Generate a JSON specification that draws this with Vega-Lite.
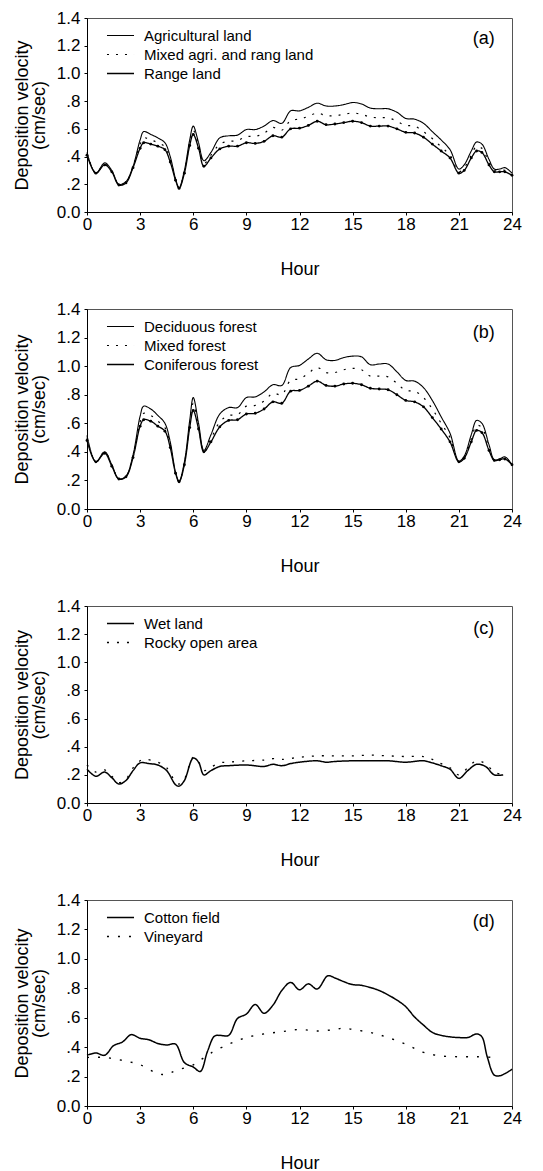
{
"$schema": "https://vega.github.io/schema/vega-lite/v6.json",
"padding": {"left": 12, "top": 8, "right": 10, "bottom": 0},
"spacing": 20,
"background": "white",
"config": {
  "font": "Liberation Sans",
  "view": {"stroke": "#555", "strokeWidth": 1},
  "axis": {"labelFont": "Liberation Sans", "labelFontSize": 17, "titleFont": "Liberation Sans", "titleFontSize": 18, "titleFontWeight": "normal", "domainColor": "black", "tickColor": "black", "labelColor": "black", "titleColor": "black", "grid": false, "tickSize": 3, "labelFlush": false, "labelOverlap": false, "tickCount": 20},
  "axisX": {"labelPadding": 1, "titlePadding": 28},
  "axisY": {"labelPadding": 4, "titlePadding": 8, "titleLineHeight": 17, "labelOverlap": false},
  "legend": {"orient": "none", "legendX": 24, "legendY": 8, "labelFont": "Liberation Sans", "labelFontSize": 15, "labelColor": "black", "labelLimit": 400, "symbolType": "M-1.59,0H1.59", "symbolSize": 289, "symbolStrokeColor": "black", "rowPadding": 1, "labelOffset": 14}
},
"datasets": {
"a": [
{"s":"Agricultural land","h":0,"v":0.43},{"s":"Agricultural land","h":0.5,"v":0.28},{"s":"Agricultural land","h":1,"v":0.355},{"s":"Agricultural land","h":1.4,"v":0.30},{"s":"Agricultural land","h":1.8,"v":0.20},{"s":"Agricultural land","h":2.2,"v":0.22},{"s":"Agricultural land","h":2.6,"v":0.33},{"s":"Agricultural land","h":3,"v":0.52},{"s":"Agricultural land","h":3.2,"v":0.58},{"s":"Agricultural land","h":3.6,"v":0.56},{"s":"Agricultural land","h":4,"v":0.535},{"s":"Agricultural land","h":4.4,"v":0.50},{"s":"Agricultural land","h":4.7,"v":0.40},{"s":"Agricultural land","h":5,"v":0.24},{"s":"Agricultural land","h":5.2,"v":0.175},{"s":"Agricultural land","h":5.5,"v":0.30},{"s":"Agricultural land","h":5.8,"v":0.52},{"s":"Agricultural land","h":6,"v":0.62},{"s":"Agricultural land","h":6.3,"v":0.50},{"s":"Agricultural land","h":6.6,"v":0.37},{"s":"Agricultural land","h":7,"v":0.43},{"s":"Agricultural land","h":7.5,"v":0.535},{"s":"Agricultural land","h":8,"v":0.55},{"s":"Agricultural land","h":8.5,"v":0.555},{"s":"Agricultural land","h":9,"v":0.595},{"s":"Agricultural land","h":9.5,"v":0.595},{"s":"Agricultural land","h":10,"v":0.62},{"s":"Agricultural land","h":10.5,"v":0.66},{"s":"Agricultural land","h":11,"v":0.64},{"s":"Agricultural land","h":11.5,"v":0.73},{"s":"Agricultural land","h":12,"v":0.73},{"s":"Agricultural land","h":12.5,"v":0.755},{"s":"Agricultural land","h":13,"v":0.785},{"s":"Agricultural land","h":13.5,"v":0.765},{"s":"Agricultural land","h":14,"v":0.765},{"s":"Agricultural land","h":14.5,"v":0.775},{"s":"Agricultural land","h":15,"v":0.79},{"s":"Agricultural land","h":15.5,"v":0.78},{"s":"Agricultural land","h":16,"v":0.75},{"s":"Agricultural land","h":16.5,"v":0.745},{"s":"Agricultural land","h":17,"v":0.745},{"s":"Agricultural land","h":17.5,"v":0.72},{"s":"Agricultural land","h":18,"v":0.675},{"s":"Agricultural land","h":18.5,"v":0.67},{"s":"Agricultural land","h":19,"v":0.64},{"s":"Agricultural land","h":19.5,"v":0.58},{"s":"Agricultural land","h":20,"v":0.52},{"s":"Agricultural land","h":20.5,"v":0.45},{"s":"Agricultural land","h":21,"v":0.31},{"s":"Agricultural land","h":21.3,"v":0.34},{"s":"Agricultural land","h":21.7,"v":0.44},{"s":"Agricultural land","h":22,"v":0.505},{"s":"Agricultural land","h":22.3,"v":0.49},{"s":"Agricultural land","h":22.7,"v":0.38},{"s":"Agricultural land","h":23,"v":0.31},{"s":"Agricultural land","h":23.3,"v":0.31},{"s":"Agricultural land","h":23.6,"v":0.32},{"s":"Agricultural land","h":24,"v":0.28},
{"s":"Mixed agri. and rang land","h":0,"v":0.42},{"s":"Mixed agri. and rang land","h":0.5,"v":0.28},{"s":"Mixed agri. and rang land","h":1,"v":0.345},{"s":"Mixed agri. and rang land","h":1.4,"v":0.295},{"s":"Mixed agri. and rang land","h":1.8,"v":0.20},{"s":"Mixed agri. and rang land","h":2.2,"v":0.215},{"s":"Mixed agri. and rang land","h":2.6,"v":0.33},{"s":"Mixed agri. and rang land","h":3,"v":0.49},{"s":"Mixed agri. and rang land","h":3.2,"v":0.535},{"s":"Mixed agri. and rang land","h":3.6,"v":0.52},{"s":"Mixed agri. and rang land","h":4,"v":0.50},{"s":"Mixed agri. and rang land","h":4.4,"v":0.47},{"s":"Mixed agri. and rang land","h":4.7,"v":0.38},{"s":"Mixed agri. and rang land","h":5,"v":0.235},{"s":"Mixed agri. and rang land","h":5.2,"v":0.175},{"s":"Mixed agri. and rang land","h":5.5,"v":0.29},{"s":"Mixed agri. and rang land","h":5.8,"v":0.50},{"s":"Mixed agri. and rang land","h":6,"v":0.59},{"s":"Mixed agri. and rang land","h":6.3,"v":0.48},{"s":"Mixed agri. and rang land","h":6.6,"v":0.35},{"s":"Mixed agri. and rang land","h":7,"v":0.41},{"s":"Mixed agri. and rang land","h":7.5,"v":0.49},{"s":"Mixed agri. and rang land","h":8,"v":0.51},{"s":"Mixed agri. and rang land","h":8.5,"v":0.515},{"s":"Mixed agri. and rang land","h":9,"v":0.545},{"s":"Mixed agri. and rang land","h":9.5,"v":0.545},{"s":"Mixed agri. and rang land","h":10,"v":0.57},{"s":"Mixed agri. and rang land","h":10.5,"v":0.61},{"s":"Mixed agri. and rang land","h":11,"v":0.59},{"s":"Mixed agri. and rang land","h":11.5,"v":0.66},{"s":"Mixed agri. and rang land","h":12,"v":0.67},{"s":"Mixed agri. and rang land","h":12.5,"v":0.69},{"s":"Mixed agri. and rang land","h":13,"v":0.715},{"s":"Mixed agri. and rang land","h":13.5,"v":0.695},{"s":"Mixed agri. and rang land","h":14,"v":0.695},{"s":"Mixed agri. and rang land","h":14.5,"v":0.705},{"s":"Mixed agri. and rang land","h":15,"v":0.715},{"s":"Mixed agri. and rang land","h":15.5,"v":0.705},{"s":"Mixed agri. and rang land","h":16,"v":0.685},{"s":"Mixed agri. and rang land","h":16.5,"v":0.68},{"s":"Mixed agri. and rang land","h":17,"v":0.68},{"s":"Mixed agri. and rang land","h":17.5,"v":0.655},{"s":"Mixed agri. and rang land","h":18,"v":0.625},{"s":"Mixed agri. and rang land","h":18.5,"v":0.62},{"s":"Mixed agri. and rang land","h":19,"v":0.58},{"s":"Mixed agri. and rang land","h":19.5,"v":0.53},{"s":"Mixed agri. and rang land","h":20,"v":0.47},{"s":"Mixed agri. and rang land","h":20.5,"v":0.41},{"s":"Mixed agri. and rang land","h":21,"v":0.29},{"s":"Mixed agri. and rang land","h":21.3,"v":0.32},{"s":"Mixed agri. and rang land","h":21.7,"v":0.41},{"s":"Mixed agri. and rang land","h":22,"v":0.475},{"s":"Mixed agri. and rang land","h":22.3,"v":0.46},{"s":"Mixed agri. and rang land","h":22.7,"v":0.36},{"s":"Mixed agri. and rang land","h":23,"v":0.30},{"s":"Mixed agri. and rang land","h":23.3,"v":0.30},{"s":"Mixed agri. and rang land","h":23.6,"v":0.30},{"s":"Mixed agri. and rang land","h":24,"v":0.27},
{"s":"Range land","h":0,"v":0.41},{"s":"Range land","h":0.5,"v":0.28},{"s":"Range land","h":1,"v":0.34},{"s":"Range land","h":1.4,"v":0.29},{"s":"Range land","h":1.8,"v":0.195},{"s":"Range land","h":2.2,"v":0.21},{"s":"Range land","h":2.6,"v":0.32},{"s":"Range land","h":3,"v":0.46},{"s":"Range land","h":3.2,"v":0.50},{"s":"Range land","h":3.6,"v":0.49},{"s":"Range land","h":4,"v":0.475},{"s":"Range land","h":4.4,"v":0.45},{"s":"Range land","h":4.7,"v":0.36},{"s":"Range land","h":5,"v":0.23},{"s":"Range land","h":5.2,"v":0.17},{"s":"Range land","h":5.5,"v":0.28},{"s":"Range land","h":5.8,"v":0.48},{"s":"Range land","h":6,"v":0.56},{"s":"Range land","h":6.3,"v":0.46},{"s":"Range land","h":6.6,"v":0.33},{"s":"Range land","h":7,"v":0.39},{"s":"Range land","h":7.5,"v":0.455},{"s":"Range land","h":8,"v":0.475},{"s":"Range land","h":8.5,"v":0.475},{"s":"Range land","h":9,"v":0.50},{"s":"Range land","h":9.5,"v":0.495},{"s":"Range land","h":10,"v":0.51},{"s":"Range land","h":10.5,"v":0.55},{"s":"Range land","h":11,"v":0.54},{"s":"Range land","h":11.5,"v":0.60},{"s":"Range land","h":12,"v":0.605},{"s":"Range land","h":12.5,"v":0.625},{"s":"Range land","h":13,"v":0.655},{"s":"Range land","h":13.5,"v":0.63},{"s":"Range land","h":14,"v":0.635},{"s":"Range land","h":14.5,"v":0.645},{"s":"Range land","h":15,"v":0.655},{"s":"Range land","h":15.5,"v":0.645},{"s":"Range land","h":16,"v":0.62},{"s":"Range land","h":16.5,"v":0.62},{"s":"Range land","h":17,"v":0.62},{"s":"Range land","h":17.5,"v":0.60},{"s":"Range land","h":18,"v":0.575},{"s":"Range land","h":18.5,"v":0.57},{"s":"Range land","h":19,"v":0.54},{"s":"Range land","h":19.5,"v":0.49},{"s":"Range land","h":20,"v":0.44},{"s":"Range land","h":20.5,"v":0.39},{"s":"Range land","h":21,"v":0.28},{"s":"Range land","h":21.3,"v":0.30},{"s":"Range land","h":21.7,"v":0.39},{"s":"Range land","h":22,"v":0.44},{"s":"Range land","h":22.3,"v":0.43},{"s":"Range land","h":22.7,"v":0.34},{"s":"Range land","h":23,"v":0.29},{"s":"Range land","h":23.3,"v":0.29},{"s":"Range land","h":23.6,"v":0.29},{"s":"Range land","h":24,"v":0.265}
],
"b": [
{"s":"Deciduous forest","h":0,"v":0.515},{"s":"Deciduous forest","h":0.5,"v":0.33},{"s":"Deciduous forest","h":1,"v":0.40},{"s":"Deciduous forest","h":1.4,"v":0.31},{"s":"Deciduous forest","h":1.8,"v":0.21},{"s":"Deciduous forest","h":2.2,"v":0.23},{"s":"Deciduous forest","h":2.6,"v":0.38},{"s":"Deciduous forest","h":3,"v":0.65},{"s":"Deciduous forest","h":3.2,"v":0.72},{"s":"Deciduous forest","h":3.6,"v":0.70},{"s":"Deciduous forest","h":4,"v":0.655},{"s":"Deciduous forest","h":4.4,"v":0.60},{"s":"Deciduous forest","h":4.7,"v":0.47},{"s":"Deciduous forest","h":5,"v":0.26},{"s":"Deciduous forest","h":5.2,"v":0.195},{"s":"Deciduous forest","h":5.5,"v":0.33},{"s":"Deciduous forest","h":5.8,"v":0.62},{"s":"Deciduous forest","h":6,"v":0.78},{"s":"Deciduous forest","h":6.3,"v":0.60},{"s":"Deciduous forest","h":6.6,"v":0.41},{"s":"Deciduous forest","h":7,"v":0.52},{"s":"Deciduous forest","h":7.5,"v":0.665},{"s":"Deciduous forest","h":8,"v":0.71},{"s":"Deciduous forest","h":8.5,"v":0.71},{"s":"Deciduous forest","h":9,"v":0.78},{"s":"Deciduous forest","h":9.5,"v":0.785},{"s":"Deciduous forest","h":10,"v":0.82},{"s":"Deciduous forest","h":10.5,"v":0.87},{"s":"Deciduous forest","h":11,"v":0.865},{"s":"Deciduous forest","h":11.5,"v":0.99},{"s":"Deciduous forest","h":12,"v":1.005},{"s":"Deciduous forest","h":12.5,"v":1.05},{"s":"Deciduous forest","h":13,"v":1.09},{"s":"Deciduous forest","h":13.5,"v":1.045},{"s":"Deciduous forest","h":14,"v":1.04},{"s":"Deciduous forest","h":14.5,"v":1.06},{"s":"Deciduous forest","h":15,"v":1.07},{"s":"Deciduous forest","h":15.5,"v":1.065},{"s":"Deciduous forest","h":16,"v":1.01},{"s":"Deciduous forest","h":16.5,"v":1.015},{"s":"Deciduous forest","h":17,"v":1.015},{"s":"Deciduous forest","h":17.5,"v":0.96},{"s":"Deciduous forest","h":18,"v":0.90},{"s":"Deciduous forest","h":18.5,"v":0.895},{"s":"Deciduous forest","h":19,"v":0.85},{"s":"Deciduous forest","h":19.5,"v":0.76},{"s":"Deciduous forest","h":20,"v":0.645},{"s":"Deciduous forest","h":20.5,"v":0.53},{"s":"Deciduous forest","h":21,"v":0.335},{"s":"Deciduous forest","h":21.3,"v":0.37},{"s":"Deciduous forest","h":21.7,"v":0.52},{"s":"Deciduous forest","h":22,"v":0.62},{"s":"Deciduous forest","h":22.3,"v":0.60},{"s":"Deciduous forest","h":22.7,"v":0.45},{"s":"Deciduous forest","h":23,"v":0.345},{"s":"Deciduous forest","h":23.3,"v":0.35},{"s":"Deciduous forest","h":23.6,"v":0.365},{"s":"Deciduous forest","h":24,"v":0.31},
{"s":"Mixed forest","h":0,"v":0.50},{"s":"Mixed forest","h":0.5,"v":0.33},{"s":"Mixed forest","h":1,"v":0.40},{"s":"Mixed forest","h":1.4,"v":0.31},{"s":"Mixed forest","h":1.8,"v":0.21},{"s":"Mixed forest","h":2.2,"v":0.23},{"s":"Mixed forest","h":2.6,"v":0.37},{"s":"Mixed forest","h":3,"v":0.61},{"s":"Mixed forest","h":3.2,"v":0.67},{"s":"Mixed forest","h":3.6,"v":0.655},{"s":"Mixed forest","h":4,"v":0.615},{"s":"Mixed forest","h":4.4,"v":0.57},{"s":"Mixed forest","h":4.7,"v":0.45},{"s":"Mixed forest","h":5,"v":0.25},{"s":"Mixed forest","h":5.2,"v":0.19},{"s":"Mixed forest","h":5.5,"v":0.32},{"s":"Mixed forest","h":5.8,"v":0.60},{"s":"Mixed forest","h":6,"v":0.74},{"s":"Mixed forest","h":6.3,"v":0.58},{"s":"Mixed forest","h":6.6,"v":0.40},{"s":"Mixed forest","h":7,"v":0.49},{"s":"Mixed forest","h":7.5,"v":0.61},{"s":"Mixed forest","h":8,"v":0.655},{"s":"Mixed forest","h":8.5,"v":0.66},{"s":"Mixed forest","h":9,"v":0.72},{"s":"Mixed forest","h":9.5,"v":0.725},{"s":"Mixed forest","h":10,"v":0.755},{"s":"Mixed forest","h":10.5,"v":0.81},{"s":"Mixed forest","h":11,"v":0.80},{"s":"Mixed forest","h":11.5,"v":0.90},{"s":"Mixed forest","h":12,"v":0.91},{"s":"Mixed forest","h":12.5,"v":0.95},{"s":"Mixed forest","h":13,"v":0.99},{"s":"Mixed forest","h":13.5,"v":0.955},{"s":"Mixed forest","h":14,"v":0.955},{"s":"Mixed forest","h":14.5,"v":0.975},{"s":"Mixed forest","h":15,"v":0.985},{"s":"Mixed forest","h":15.5,"v":0.975},{"s":"Mixed forest","h":16,"v":0.93},{"s":"Mixed forest","h":16.5,"v":0.93},{"s":"Mixed forest","h":17,"v":0.925},{"s":"Mixed forest","h":17.5,"v":0.88},{"s":"Mixed forest","h":18,"v":0.83},{"s":"Mixed forest","h":18.5,"v":0.825},{"s":"Mixed forest","h":19,"v":0.78},{"s":"Mixed forest","h":19.5,"v":0.70},{"s":"Mixed forest","h":20,"v":0.60},{"s":"Mixed forest","h":20.5,"v":0.50},{"s":"Mixed forest","h":21,"v":0.33},{"s":"Mixed forest","h":21.3,"v":0.36},{"s":"Mixed forest","h":21.7,"v":0.49},{"s":"Mixed forest","h":22,"v":0.585},{"s":"Mixed forest","h":22.3,"v":0.57},{"s":"Mixed forest","h":22.7,"v":0.43},{"s":"Mixed forest","h":23,"v":0.34},{"s":"Mixed forest","h":23.3,"v":0.345},{"s":"Mixed forest","h":23.6,"v":0.36},{"s":"Mixed forest","h":24,"v":0.31},
{"s":"Coniferous forest","h":0,"v":0.48},{"s":"Coniferous forest","h":0.5,"v":0.33},{"s":"Coniferous forest","h":1,"v":0.39},{"s":"Coniferous forest","h":1.4,"v":0.30},{"s":"Coniferous forest","h":1.8,"v":0.21},{"s":"Coniferous forest","h":2.2,"v":0.225},{"s":"Coniferous forest","h":2.6,"v":0.36},{"s":"Coniferous forest","h":3,"v":0.58},{"s":"Coniferous forest","h":3.2,"v":0.625},{"s":"Coniferous forest","h":3.6,"v":0.615},{"s":"Coniferous forest","h":4,"v":0.58},{"s":"Coniferous forest","h":4.4,"v":0.545},{"s":"Coniferous forest","h":4.7,"v":0.43},{"s":"Coniferous forest","h":5,"v":0.25},{"s":"Coniferous forest","h":5.2,"v":0.19},{"s":"Coniferous forest","h":5.5,"v":0.31},{"s":"Coniferous forest","h":5.8,"v":0.57},{"s":"Coniferous forest","h":6,"v":0.69},{"s":"Coniferous forest","h":6.3,"v":0.56},{"s":"Coniferous forest","h":6.6,"v":0.40},{"s":"Coniferous forest","h":7,"v":0.47},{"s":"Coniferous forest","h":7.5,"v":0.575},{"s":"Coniferous forest","h":8,"v":0.62},{"s":"Coniferous forest","h":8.5,"v":0.625},{"s":"Coniferous forest","h":9,"v":0.665},{"s":"Coniferous forest","h":9.5,"v":0.67},{"s":"Coniferous forest","h":10,"v":0.70},{"s":"Coniferous forest","h":10.5,"v":0.75},{"s":"Coniferous forest","h":11,"v":0.74},{"s":"Coniferous forest","h":11.5,"v":0.825},{"s":"Coniferous forest","h":12,"v":0.83},{"s":"Coniferous forest","h":12.5,"v":0.86},{"s":"Coniferous forest","h":13,"v":0.895},{"s":"Coniferous forest","h":13.5,"v":0.865},{"s":"Coniferous forest","h":14,"v":0.86},{"s":"Coniferous forest","h":14.5,"v":0.875},{"s":"Coniferous forest","h":15,"v":0.88},{"s":"Coniferous forest","h":15.5,"v":0.87},{"s":"Coniferous forest","h":16,"v":0.845},{"s":"Coniferous forest","h":16.5,"v":0.84},{"s":"Coniferous forest","h":17,"v":0.835},{"s":"Coniferous forest","h":17.5,"v":0.80},{"s":"Coniferous forest","h":18,"v":0.76},{"s":"Coniferous forest","h":18.5,"v":0.75},{"s":"Coniferous forest","h":19,"v":0.715},{"s":"Coniferous forest","h":19.5,"v":0.64},{"s":"Coniferous forest","h":20,"v":0.56},{"s":"Coniferous forest","h":20.5,"v":0.47},{"s":"Coniferous forest","h":21,"v":0.33},{"s":"Coniferous forest","h":21.3,"v":0.355},{"s":"Coniferous forest","h":21.7,"v":0.47},{"s":"Coniferous forest","h":22,"v":0.55},{"s":"Coniferous forest","h":22.3,"v":0.535},{"s":"Coniferous forest","h":22.7,"v":0.41},{"s":"Coniferous forest","h":23,"v":0.34},{"s":"Coniferous forest","h":23.3,"v":0.345},{"s":"Coniferous forest","h":23.6,"v":0.35},{"s":"Coniferous forest","h":24,"v":0.31}
],
"c": [
{"s":"Wet land","h":0,"v":0.24},{"s":"Wet land","h":0.5,"v":0.19},{"s":"Wet land","h":1,"v":0.22},{"s":"Wet land","h":1.4,"v":0.18},{"s":"Wet land","h":1.8,"v":0.135},{"s":"Wet land","h":2.2,"v":0.16},{"s":"Wet land","h":2.6,"v":0.23},{"s":"Wet land","h":3,"v":0.285},{"s":"Wet land","h":3.5,"v":0.28},{"s":"Wet land","h":4,"v":0.27},{"s":"Wet land","h":4.5,"v":0.23},{"s":"Wet land","h":5,"v":0.13},{"s":"Wet land","h":5.2,"v":0.12},{"s":"Wet land","h":5.5,"v":0.16},{"s":"Wet land","h":6,"v":0.32},{"s":"Wet land","h":6.3,"v":0.29},{"s":"Wet land","h":6.6,"v":0.20},{"s":"Wet land","h":7,"v":0.23},{"s":"Wet land","h":7.5,"v":0.26},{"s":"Wet land","h":8,"v":0.265},{"s":"Wet land","h":9,"v":0.27},{"s":"Wet land","h":10,"v":0.26},{"s":"Wet land","h":10.5,"v":0.275},{"s":"Wet land","h":11,"v":0.265},{"s":"Wet land","h":11.5,"v":0.28},{"s":"Wet land","h":12,"v":0.29},{"s":"Wet land","h":13,"v":0.30},{"s":"Wet land","h":13.5,"v":0.29},{"s":"Wet land","h":14,"v":0.295},{"s":"Wet land","h":15,"v":0.30},{"s":"Wet land","h":16,"v":0.30},{"s":"Wet land","h":17,"v":0.30},{"s":"Wet land","h":18,"v":0.29},{"s":"Wet land","h":19,"v":0.30},{"s":"Wet land","h":19.5,"v":0.285},{"s":"Wet land","h":20,"v":0.265},{"s":"Wet land","h":20.5,"v":0.24},{"s":"Wet land","h":21,"v":0.175},{"s":"Wet land","h":21.5,"v":0.23},{"s":"Wet land","h":22,"v":0.275},{"s":"Wet land","h":22.5,"v":0.26},{"s":"Wet land","h":23,"v":0.20},{"s":"Wet land","h":23.5,"v":0.20},
{"s":"Rocky open area","h":0,"v":0.27},{"s":"Rocky open area","h":0.5,"v":0.22},{"s":"Rocky open area","h":1,"v":0.235},{"s":"Rocky open area","h":1.4,"v":0.19},{"s":"Rocky open area","h":1.8,"v":0.145},{"s":"Rocky open area","h":2.2,"v":0.17},{"s":"Rocky open area","h":2.6,"v":0.25},{"s":"Rocky open area","h":3,"v":0.30},{"s":"Rocky open area","h":3.2,"v":0.31},{"s":"Rocky open area","h":4,"v":0.29},{"s":"Rocky open area","h":4.5,"v":0.25},{"s":"Rocky open area","h":5,"v":0.15},{"s":"Rocky open area","h":5.2,"v":0.135},{"s":"Rocky open area","h":5.5,"v":0.17},{"s":"Rocky open area","h":6,"v":0.325},{"s":"Rocky open area","h":6.3,"v":0.29},{"s":"Rocky open area","h":6.6,"v":0.23},{"s":"Rocky open area","h":7,"v":0.255},{"s":"Rocky open area","h":7.5,"v":0.285},{"s":"Rocky open area","h":8,"v":0.29},{"s":"Rocky open area","h":9,"v":0.30},{"s":"Rocky open area","h":10,"v":0.305},{"s":"Rocky open area","h":10.5,"v":0.315},{"s":"Rocky open area","h":11,"v":0.31},{"s":"Rocky open area","h":12,"v":0.325},{"s":"Rocky open area","h":13,"v":0.335},{"s":"Rocky open area","h":14,"v":0.335},{"s":"Rocky open area","h":15,"v":0.335},{"s":"Rocky open area","h":16,"v":0.34},{"s":"Rocky open area","h":17,"v":0.335},{"s":"Rocky open area","h":18,"v":0.33},{"s":"Rocky open area","h":19,"v":0.33},{"s":"Rocky open area","h":19.5,"v":0.31},{"s":"Rocky open area","h":20,"v":0.28},{"s":"Rocky open area","h":20.5,"v":0.25},{"s":"Rocky open area","h":21,"v":0.20},{"s":"Rocky open area","h":21.5,"v":0.25},{"s":"Rocky open area","h":22,"v":0.30},{"s":"Rocky open area","h":22.5,"v":0.28},{"s":"Rocky open area","h":23,"v":0.22},{"s":"Rocky open area","h":23.5,"v":0.20}
],
"d": [
{"s":"Cotton field","h":0,"v":0.345},{"s":"Cotton field","h":0.5,"v":0.36},{"s":"Cotton field","h":1,"v":0.345},{"s":"Cotton field","h":1.5,"v":0.41},{"s":"Cotton field","h":2,"v":0.435},{"s":"Cotton field","h":2.5,"v":0.485},{"s":"Cotton field","h":3,"v":0.46},{"s":"Cotton field","h":3.5,"v":0.45},{"s":"Cotton field","h":4,"v":0.425},{"s":"Cotton field","h":4.5,"v":0.415},{"s":"Cotton field","h":5,"v":0.42},{"s":"Cotton field","h":5.5,"v":0.295},{"s":"Cotton field","h":6,"v":0.265},{"s":"Cotton field","h":6.4,"v":0.235},{"s":"Cotton field","h":6.8,"v":0.37},{"s":"Cotton field","h":7.2,"v":0.475},{"s":"Cotton field","h":7.5,"v":0.48},{"s":"Cotton field","h":8,"v":0.48},{"s":"Cotton field","h":8.5,"v":0.595},{"s":"Cotton field","h":9,"v":0.625},{"s":"Cotton field","h":9.5,"v":0.69},{"s":"Cotton field","h":10,"v":0.63},{"s":"Cotton field","h":10.5,"v":0.685},{"s":"Cotton field","h":11,"v":0.785},{"s":"Cotton field","h":11.5,"v":0.84},{"s":"Cotton field","h":12,"v":0.79},{"s":"Cotton field","h":12.5,"v":0.83},{"s":"Cotton field","h":13,"v":0.795},{"s":"Cotton field","h":13.6,"v":0.885},{"s":"Cotton field","h":14,"v":0.87},{"s":"Cotton field","h":14.5,"v":0.845},{"s":"Cotton field","h":15,"v":0.825},{"s":"Cotton field","h":15.5,"v":0.82},{"s":"Cotton field","h":16,"v":0.805},{"s":"Cotton field","h":16.5,"v":0.785},{"s":"Cotton field","h":17,"v":0.755},{"s":"Cotton field","h":17.5,"v":0.72},{"s":"Cotton field","h":18,"v":0.675},{"s":"Cotton field","h":18.5,"v":0.605},{"s":"Cotton field","h":19,"v":0.55},{"s":"Cotton field","h":19.5,"v":0.50},{"s":"Cotton field","h":20,"v":0.48},{"s":"Cotton field","h":20.5,"v":0.47},{"s":"Cotton field","h":21,"v":0.465},{"s":"Cotton field","h":21.5,"v":0.465},{"s":"Cotton field","h":22,"v":0.49},{"s":"Cotton field","h":22.3,"v":0.47},{"s":"Cotton field","h":22.6,"v":0.335},{"s":"Cotton field","h":23,"v":0.21},{"s":"Cotton field","h":23.3,"v":0.205},{"s":"Cotton field","h":23.6,"v":0.22},{"s":"Cotton field","h":24,"v":0.25},
{"s":"Vineyard","h":0,"v":0.33},{"s":"Vineyard","h":1,"v":0.33},{"s":"Vineyard","h":2,"v":0.31},{"s":"Vineyard","h":3,"v":0.28},{"s":"Vineyard","h":4,"v":0.22},{"s":"Vineyard","h":4.5,"v":0.215},{"s":"Vineyard","h":5,"v":0.24},{"s":"Vineyard","h":6,"v":0.28},{"s":"Vineyard","h":6.5,"v":0.32},{"s":"Vineyard","h":7,"v":0.36},{"s":"Vineyard","h":8,"v":0.42},{"s":"Vineyard","h":9,"v":0.465},{"s":"Vineyard","h":10,"v":0.49},{"s":"Vineyard","h":11,"v":0.505},{"s":"Vineyard","h":12,"v":0.52},{"s":"Vineyard","h":13,"v":0.51},{"s":"Vineyard","h":14,"v":0.52},{"s":"Vineyard","h":14.5,"v":0.53},{"s":"Vineyard","h":15,"v":0.52},{"s":"Vineyard","h":16,"v":0.50},{"s":"Vineyard","h":17,"v":0.465},{"s":"Vineyard","h":18,"v":0.42},{"s":"Vineyard","h":19,"v":0.365},{"s":"Vineyard","h":20,"v":0.34},{"s":"Vineyard","h":21,"v":0.335},{"s":"Vineyard","h":22,"v":0.335},{"s":"Vineyard","h":23,"v":0.33}
]
},
"resolve": {"scale": {"strokeDash": "independent", "strokeWidth": "independent"}, "legend": {"strokeDash": "independent", "strokeWidth": "independent"}},
"vconcat": [
{
 "width": 425, "height": 194,
 "data": {"name": "a"},
 "layer": [
  {"mark": {"type": "line", "interpolate": "catmull-rom", "color": "black"},
   "encoding": {
    "x": {"field": "h", "type": "quantitative", "scale": {"domain": [0, 24]}, "axis": {"values": [0,3,6,9,12,15,18,21,24], "tickCount": 20, "title": "Hour"}},
    "y": {"field": "v", "type": "quantitative", "scale": {"domain": [0, 1.4]}, "axis": {"values": [0,0.2,0.4,0.6,0.8,1,1.2,1.4], "tickCount": 20, "labelOverlap": false, "title": ["Deposition velocity", "(cm/sec)"], "labelExpr": "datum.value == 0 ? '0.0' : datum.value < 0.99 ? replace(format(datum.value, '.1f'), '0.', '.') : format(datum.value, '.1f')"}},
    "strokeDash": {"field": "s", "type": "nominal", "scale": {"domain": ["Agricultural land", "Mixed agri. and rang land", "Range land"], "range": [[1,0],[2,7],[1,0]]}, "legend": {"title": null}},
    "strokeWidth": {"field": "s", "type": "nominal", "scale": {"domain": ["Agricultural land", "Mixed agri. and rang land", "Range land"], "range": [1.1, 1.3, 2]}, "legend": {"title": null}}
   }},
  {"transform": [{"filter": "datum.s == 'Range land'"}], "mark": {"type": "point", "filled": true, "size": 8, "color": "black", "opacity": 1},
   "encoding": {"x": {"field": "h", "type": "quantitative"}, "y": {"field": "v", "type": "quantitative"}}},
  {"data": {"values": [{}]}, "mark": {"type": "text", "fontSize": 18, "font": "Liberation Sans", "color": "black"},
   "encoding": {"x": {"datum": 22.4, "type": "quantitative"}, "y": {"datum": 1.25, "type": "quantitative"}, "text": {"value": "(a)"}}}
 ]
},
{
 "width": 425, "height": 200,
 "data": {"name": "b"},
 "layer": [
  {"mark": {"type": "line", "interpolate": "catmull-rom", "color": "black"},
   "encoding": {
    "x": {"field": "h", "type": "quantitative", "scale": {"domain": [0, 24]}, "axis": {"values": [0,3,6,9,12,15,18,21,24], "tickCount": 20, "title": "Hour"}},
    "y": {"field": "v", "type": "quantitative", "scale": {"domain": [0, 1.4]}, "axis": {"values": [0,0.2,0.4,0.6,0.8,1,1.2,1.4], "tickCount": 20, "labelOverlap": false, "title": ["Deposition velocity", "(cm/sec)"], "labelExpr": "datum.value == 0 ? '0.0' : datum.value < 0.99 ? replace(format(datum.value, '.1f'), '0.', '.') : format(datum.value, '.1f')"}},
    "strokeDash": {"field": "s", "type": "nominal", "scale": {"domain": ["Deciduous forest", "Mixed forest", "Coniferous forest"], "range": [[1,0],[2,7],[1,0]]}, "legend": {"title": null}},
    "strokeWidth": {"field": "s", "type": "nominal", "scale": {"domain": ["Deciduous forest", "Mixed forest", "Coniferous forest"], "range": [1.1, 1.3, 2]}, "legend": {"title": null}}
   }},
  {"transform": [{"filter": "datum.s == 'Coniferous forest'"}], "mark": {"type": "point", "filled": true, "size": 8, "color": "black", "opacity": 1},
   "encoding": {"x": {"field": "h", "type": "quantitative"}, "y": {"field": "v", "type": "quantitative"}}},
  {"data": {"values": [{}]}, "mark": {"type": "text", "fontSize": 18, "font": "Liberation Sans", "color": "black"},
   "encoding": {"x": {"datum": 22.4, "type": "quantitative"}, "y": {"datum": 1.23, "type": "quantitative"}, "text": {"value": "(b)"}}}
 ]
},
{
 "width": 425, "height": 197,
 "data": {"name": "c"},
 "layer": [
  {"mark": {"type": "line", "interpolate": "catmull-rom", "color": "black"},
   "encoding": {
    "x": {"field": "h", "type": "quantitative", "scale": {"domain": [0, 24]}, "axis": {"values": [0,3,6,9,12,15,18,21,24], "tickCount": 20, "title": "Hour"}},
    "y": {"field": "v", "type": "quantitative", "scale": {"domain": [0, 1.4]}, "axis": {"values": [0,0.2,0.4,0.6,0.8,1,1.2,1.4], "tickCount": 20, "labelOverlap": false, "title": ["Deposition velocity", "(cm/sec)"], "labelExpr": "datum.value == 0 ? '0.0' : datum.value < 0.99 ? replace(format(datum.value, '.1f'), '0.', '.') : format(datum.value, '.1f')"}},
    "strokeDash": {"field": "s", "type": "nominal", "scale": {"domain": ["Wet land", "Rocky open area"], "range": [[1,0],[2,8]]}, "legend": {"title": null}},
    "strokeWidth": {"field": "s", "type": "nominal", "scale": {"domain": ["Wet land", "Rocky open area"], "range": [1.5, 1.3]}, "legend": {"title": null}}
   }},
  {"data": {"values": [{}]}, "mark": {"type": "text", "fontSize": 18, "font": "Liberation Sans", "color": "black"},
   "encoding": {"x": {"datum": 22.4, "type": "quantitative"}, "y": {"datum": 1.24, "type": "quantitative"}, "text": {"value": "(c)"}}}
 ]
},
{
 "width": 425, "height": 206,
 "data": {"name": "d"},
 "layer": [
  {"mark": {"type": "line", "interpolate": "catmull-rom", "color": "black"},
   "encoding": {
    "x": {"field": "h", "type": "quantitative", "scale": {"domain": [0, 24]}, "axis": {"values": [0,3,6,9,12,15,18,21,24], "tickCount": 20, "title": "Hour"}},
    "y": {"field": "v", "type": "quantitative", "scale": {"domain": [0, 1.4]}, "axis": {"values": [0,0.2,0.4,0.6,0.8,1,1.2,1.4], "tickCount": 20, "labelOverlap": false, "title": ["Deposition velocity", "(cm/sec)"], "labelExpr": "datum.value == 0 ? '0.0' : datum.value < 0.99 ? replace(format(datum.value, '.1f'), '0.', '.') : format(datum.value, '.1f')"}},
    "strokeDash": {"field": "s", "type": "nominal", "scale": {"domain": ["Cotton field", "Vineyard"], "range": [[1,0],[2,9]]}, "legend": {"title": null}},
    "strokeWidth": {"field": "s", "type": "nominal", "scale": {"domain": ["Cotton field", "Vineyard"], "range": [1.5, 1.4]}, "legend": {"title": null}}
   }},
  {"data": {"values": [{}]}, "mark": {"type": "text", "fontSize": 18, "font": "Liberation Sans", "color": "black"},
   "encoding": {"x": {"datum": 22.4, "type": "quantitative"}, "y": {"datum": 1.25, "type": "quantitative"}, "text": {"value": "(d)"}}}
 ]
}
]
}
